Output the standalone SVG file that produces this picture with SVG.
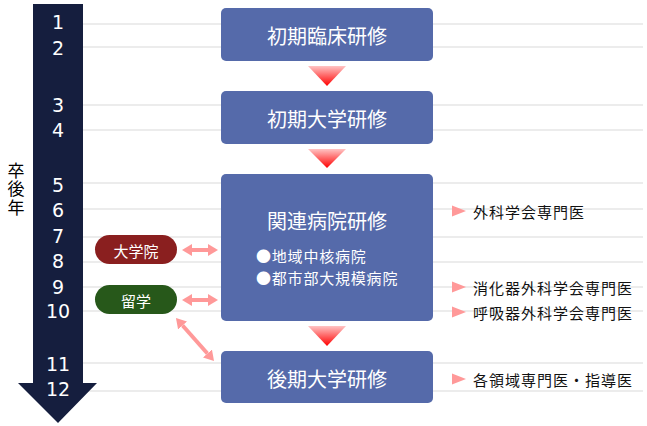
<svg xmlns="http://www.w3.org/2000/svg" width="647" height="426" viewBox="0 0 647 426">
<defs>
<style>
text{font-family:"Noto Sans CJK JP","Noto Sans",sans-serif;}
.grid{stroke:#ececec;stroke-width:2;}
.num{fill:#fff;font-family:"DejaVu Sans",sans-serif;font-size:19px;text-anchor:middle;dominant-baseline:central;}
.box{fill:#556aaa;}
.btxt{fill:#fff;font-size:20px;text-anchor:middle;dominant-baseline:central;}
.stxt{fill:#fff;font-size:15px;letter-spacing:0.8px;dominant-baseline:central;}
.ptxt{fill:#fff;font-size:15px;text-anchor:middle;dominant-baseline:central;}
.lbl{fill:#111;font-size:15px;letter-spacing:1px;dominant-baseline:central;}
.yl{fill:#000;font-size:17px;letter-spacing:1.5px;writing-mode:vertical-rl;}
.bul{fill:#ff9999;}
.dbl{stroke:#ff9999;stroke-width:4;fill:none;marker-start:url(#ah);marker-end:url(#ah);}
.down{fill:url(#rg);}
</style>
<linearGradient id="rg" x1="0" y1="0" x2="0" y2="1">
<stop offset="0" stop-color="#ffc4c4"/>
<stop offset="1" stop-color="#ff0000"/>
</linearGradient>
<marker id="ah" viewBox="0 0 10 12" refX="0" refY="6" markerWidth="10" markerHeight="12" markerUnits="userSpaceOnUse" orient="auto-start-reverse">
<path d="M0,0 L10,6 L0,12 z" fill="#ff9999"/>
</marker>
</defs>
<rect width="647" height="426" fill="#fff"/>
<g id="grid-lines">
<line class="grid" x1="83" y1="24" x2="643" y2="24"/>
<line class="grid" x1="83" y1="47" x2="643" y2="47"/>
<line class="grid" x1="83" y1="105" x2="643" y2="105"/>
<line class="grid" x1="83" y1="130" x2="643" y2="130"/>
<line class="grid" x1="83" y1="183" x2="643" y2="183"/>
<line class="grid" x1="83" y1="209" x2="643" y2="209"/>
<line class="grid" x1="83" y1="237" x2="643" y2="237"/>
<line class="grid" x1="83" y1="262" x2="643" y2="262"/>
<line class="grid" x1="83" y1="287" x2="643" y2="287"/>
<line class="grid" x1="83" y1="311" x2="643" y2="311"/>
<line class="grid" x1="83" y1="363" x2="643" y2="363"/>
<line class="grid" x1="83" y1="391" x2="643" y2="391"/>
</g>
<g id="timeline">
<polygon points="33,4 83,4 83,383 97,383 58,423 18,383 33,383" fill="#151e3e"/>
<text class="num" x="58" y="22">1</text>
<text class="num" x="58" y="48">2</text>
<text class="num" x="58" y="105">3</text>
<text class="num" x="58" y="130">4</text>
<text class="num" x="58" y="185">5</text>
<text class="num" x="58" y="210">6</text>
<text class="num" x="58" y="236">7</text>
<text class="num" x="58" y="261">8</text>
<text class="num" x="58" y="287">9</text>
<text class="num" x="58" y="311">10</text>
<text class="num" x="58" y="364">11</text>
<text class="num" x="58" y="389">12</text>
</g>
<g id="axis-label">
<text class="yl" x="16" y="162">卒後年</text>
</g>
<g id="connectors">
<polygon class="down" points="308,66 346,66 327,86"/>
<polygon class="down" points="308,149 346,149 327,168"/>
<polygon class="down" points="308,326 346,326 327,346"/>
<line class="dbl" x1="192" y1="250" x2="208" y2="250"/>
<line class="dbl" x1="192" y1="300" x2="208" y2="300"/>
<line class="dbl" x1="182.6" y1="325.5" x2="207.4" y2="353.5"/>
</g>
<g id="node-shoki-rinsho">
<rect class="box" x="221" y="8" width="212" height="53" rx="5"/>
<text class="btxt" x="327" y="35">初期臨床研修</text>
</g>
<g id="node-shoki-daigaku">
<rect class="box" x="221" y="91" width="212" height="53" rx="5"/>
<text class="btxt" x="327" y="118">初期大学研修</text>
</g>
<g id="node-kanren">
<rect class="box" x="221" y="174" width="212" height="147" rx="5"/>
<text class="btxt" x="327" y="220">関連病院研修</text>
<text class="stxt" x="256" y="255.5">●地域中核病院</text>
<text class="stxt" x="256" y="277">●都市部大規模病院</text>
</g>
<g id="node-koki-daigaku">
<rect class="box" x="221" y="351" width="212" height="52" rx="5"/>
<text class="btxt" x="327" y="378">後期大学研修</text>
</g>
<g id="node-daigakuin">
<rect x="95" y="235" width="82" height="29" rx="14.5" fill="#8a1f1f"/>
<text class="ptxt" x="136" y="250">大学院</text>
</g>
<g id="node-ryugaku">
<rect x="95" y="285" width="82" height="29" rx="14.5" fill="#27581a"/>
<text class="ptxt" x="136" y="300">留学</text>
</g>
<g id="label-geka">
<polygon class="bul" points="452,205.5 466,211 452,216.5"/>
<text class="lbl" x="473" y="211">外科学会専門医</text>
</g>
<g id="label-shokaki">
<polygon class="bul" points="452,281.5 466,287 452,292.5"/>
<text class="lbl" x="473" y="287">消化器外科学会専門医</text>
</g>
<g id="label-kokyuki">
<polygon class="bul" points="452,306.5 466,312 452,317.5"/>
<text class="lbl" x="473" y="312">呼吸器外科学会専門医</text>
</g>
<g id="label-kakuryoiki">
<polygon class="bul" points="452,373.5 466,379 452,384.5"/>
<text class="lbl" x="473" y="379">各領域専門医・指導医</text>
</g>
</svg>
